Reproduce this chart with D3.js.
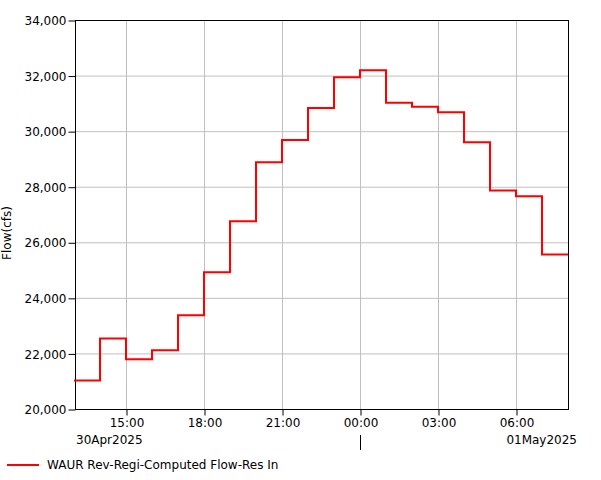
<!DOCTYPE html>
<html><head><meta charset="utf-8">
<script src="https://cdn.jsdelivr.net/npm/d3@7"></script>
<style>body{margin:0;background:#fff}svg{display:block}text{font-family:"DejaVu Sans",Verdana,sans-serif;font-size:12px;fill:#000}</style>
</head><body>
<svg id="c" width="601" height="480"></svg>
<script>
const startTimes = ["2025-04-30T13:00","2025-04-30T14:00","2025-04-30T15:00","2025-04-30T16:00","2025-04-30T17:00","2025-04-30T18:00","2025-04-30T19:00","2025-04-30T20:00","2025-04-30T21:00","2025-04-30T22:00","2025-04-30T23:00","2025-05-01T00:00","2025-05-01T01:00","2025-05-01T02:00","2025-05-01T03:00","2025-05-01T04:00","2025-05-01T05:00","2025-05-01T06:00","2025-05-01T07:00","2025-05-01T08:00"];
const flowValues = [21030,22540,21790,22110,23370,24920,26760,28880,29680,30830,31940,32190,31020,30880,30680,29600,27860,27660,25560,25560];
const yTicks = [20000,22000,24000,26000,28000,30000,32000,34000];
const xTickTimes = ["2025-04-30T15:00","2025-04-30T18:00","2025-04-30T21:00","2025-05-01T00:00","2025-05-01T03:00","2025-05-01T06:00"];
const xTickLabels = ["15:00","18:00","21:00","00:00","03:00","06:00"];
const dateLabels = ["30Apr2025","01May2025"];
const seriesName = "WAUR Rev-Regi-Computed Flow-Res In";
const yLabel = "Flow(cfs)";

const parse = d3.timeParse("%Y-%m-%dT%H:%M");
const data = startTimes.map((t,i)=>({t:parse(t),v:flowValues[i]}));
const L=75,R=568,T=20,B=409;
const svg=d3.select("#c");
const x=d3.scaleTime().domain([parse("2025-04-30T13:00"),parse("2025-05-01T08:00")]).range([74,568]);
const y=d3.scaleLinear().domain([20000,34000]).range([B,T]);
const xt=xTickTimes.map(parse);

// grid
svg.append("g").selectAll("line.gy").data(yTicks.slice(1,-1)).join("line")
 .attr("x1",L).attr("x2",R).attr("y1",d=>y(d)+0.5).attr("y2",d=>y(d)+0.5)
 .attr("stroke","#c0c0c0").attr("stroke-width",1);
svg.append("g").selectAll("line.gx").data(xt).join("line")
 .attr("x1",d=>Math.round(x(d))+0.5).attr("x2",d=>Math.round(x(d))+0.5).attr("y1",T).attr("y2",B)
 .attr("stroke","#c0c0c0").attr("stroke-width",1);

// axes
const yAxis=d3.axisLeft(y).tickValues(yTicks).tickFormat(d3.format(",")).tickSize(7).tickPadding(2);
const gy=svg.append("g").attr("transform",`translate(${L+0.5},0.5)`).call(yAxis);
gy.select(".domain").remove();
gy.selectAll("text").style("font-size","12px").style("font-family","DejaVu Sans").attr("fill","#000").attr("dy","0.35em");
const xAxis=d3.axisBottom(x).tickValues(xt).tickFormat((d,i)=>xTickLabels[i]).tickSize(6).tickPadding(3);
const gx=svg.append("g").attr("transform",`translate(0.5,${B+0.5})`).call(xAxis);
gx.select(".domain").remove();
gx.selectAll("text").style("font-size","12px").style("font-family","DejaVu Sans").attr("fill","#000");

// frame
svg.append("rect").attr("x",L+0.5).attr("y",T+0.5).attr("width",R-L).attr("height",B-T)
 .attr("fill","none").attr("stroke","#000").attr("stroke-width",1);

// day separator
svg.append("line").attr("x1",Math.round(x(xt[3]))+0.5).attr("x2",Math.round(x(xt[3]))+0.5)
 .attr("y1",435).attr("y2",450).attr("stroke","#000");
svg.append("text").attr("x",76).attr("y",444).text(dateLabels[0]);
svg.append("text").attr("x",577).attr("y",444).attr("text-anchor","end").text(dateLabels[1]);

// y label
svg.append("text").attr("transform","translate(11,233) rotate(-90)").attr("text-anchor","middle").text(yLabel);

// series
const line=d3.line().x(d=>x(d.t)).y(d=>y(d.v)).curve(d3.curveStepAfter);
svg.append("path").datum(data).attr("d",line).attr("fill","none").attr("stroke","#ff0000").attr("stroke-width",2);

// legend
svg.append("line").attr("x1",7).attr("x2",39).attr("y1",465).attr("y2",465).attr("stroke","#ff0000").attr("stroke-width",2);
svg.append("text").attr("x",47).attr("y",469).text(seriesName);
</script>
</body></html>
